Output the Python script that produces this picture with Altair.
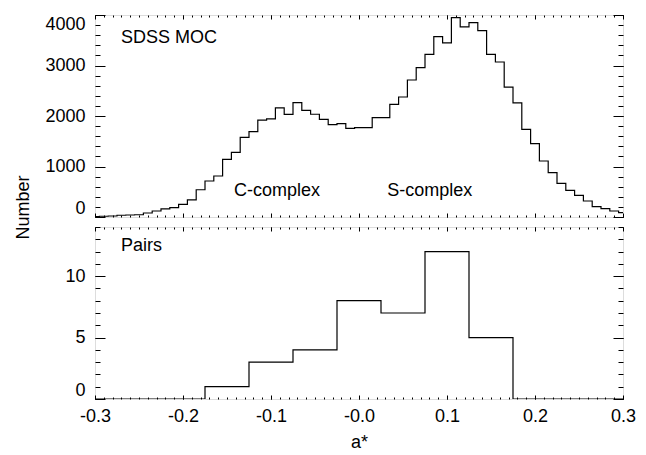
import altair as alt
import pandas as pd

# ---------------- data ----------------
# SDSS MOC a* histogram: bins of width 0.01 centred on -0.30 ... 0.30
moc_centers = [round(-0.30 + 0.01 * i, 2) for i in range(61)]
moc_counts = [10, 15, 20, 35, 40, 45, 79, 119, 160, 185,
              251, 340, 540, 713, 812, 1142, 1280, 1578, 1690, 1917,
              1945, 2160, 2033, 2264, 2112, 2035, 1934, 1830, 1850, 1756,
              1769, 1769, 1967, 1967, 2231, 2376, 2713, 2957, 3221, 3571,
              3450, 3947, 3765, 3850, 3690, 3221, 3069, 2570, 2258, 1736,
              1452, 1109, 878, 667, 528, 429, 317, 205, 165, 119, 86]

# Pairs histogram: step edges and counts (step-after)
pair_edges = [-0.30, -0.175, -0.125, -0.075, -0.025, 0.025, 0.075, 0.125, 0.175, 0.30]
pair_counts = [0, 1, 3, 4, 8, 7, 12, 5, 0, 0]

x_major = [-0.3, -0.2, -0.1, 0.0, 0.1, 0.2, 0.3]
x_minor = [round(-0.3 + 0.01 * i, 2) for i in range(61)]
top_y_major = [0, 1000, 2000, 3000, 4000]
top_y_minor = list(range(0, 4001, 200))
bot_y_major = [0, 5, 10]
bot_y_minor = list(range(0, 15))

moc_x = [round(c - 0.005, 3) for c in moc_centers] + [round(moc_centers[-1] + 0.005, 3)]
moc_y = moc_counts + [moc_counts[-1]]
moc_df = pd.DataFrame({"x": moc_x, "y": moc_y})
pair_df = pd.DataFrame({"x": pair_edges, "y": pair_counts})

# ---------------- layout ----------------
W = 528
H_TOP = 202
H_BOT = 172
FONT = "Liberation Sans"
FS = 18
XLBL = "(datum.value <= 0 ? '-' : '') + format(abs(datum.value), '.1f')"


def tick_axis(orient, offset, values, size):
    return alt.Axis(orient=orient, offset=offset, values=values, tickSize=size,
                    ticks=True, labels=False, domain=False, grid=False, title=None,
                    tickColor="black", tickWidth=1)


def panel(df, H, ydom, ymaj, ymin, xaxis_lab, yaxis_lab, notes):
    xs = alt.Scale(domain=[-0.3, 0.3], nice=False, zero=False)
    ys = alt.Scale(domain=ydom, nice=False, zero=False)

    def line(xaxis, yaxis, op):
        return alt.Chart(df).mark_line(
            interpolate="step-after", clip=True, color="black",
            strokeWidth=1.2, opacity=op
        ).encode(
            x=alt.X("x:Q", scale=xs, axis=xaxis),
            y=alt.Y("y:Q", scale=ys, axis=yaxis),
        )

    layers = [
        line(xaxis_lab, yaxis_lab, 1),
        line(tick_axis("top", -H, x_major, 4), tick_axis("right", -W, ymaj, 10), 0),
        line(tick_axis("top", -H, x_minor, 2), tick_axis("right", -W, ymin, 5), 0),
        line(tick_axis("bottom", -H, x_major, 4), tick_axis("left", -W, ymaj, 10), 0),
        line(tick_axis("bottom", -H, x_minor, 2), tick_axis("left", -W, ymin, 5), 0),
    ]
    for txt, xv, yv in notes:
        layers.append(
            alt.Chart(pd.DataFrame({"t": [txt]})).mark_text(
                align="left", baseline="middle", font=FONT, fontSize=FS, color="black"
            ).encode(
                x=alt.XDatum(xv, axis=None),
                y=alt.YDatum(yv, axis=None),
                text="t:N",
            )
        )
    return alt.layer(*layers).resolve_axis(x="independent", y="independent").properties(
        width=W, height=H
    )


top_y_axis = alt.Axis(orient="left", values=top_y_major, format="d", labelFlush=True,
                      ticks=False, tickSize=0, domain=False, grid=False,
                      labelPadding=10, labelFontSize=FS, labelColor="black", labelFont=FONT,
                      title="Number", titleFontSize=FS, titleFontWeight="normal",
                      titleFont=FONT, titleColor="black",
                      titleX=-72, titleY=192, titleAngle=270,
                      titleAlign="center", titleBaseline="middle")

bot_y_axis = alt.Axis(orient="left", values=bot_y_major, format="d", labelFlush=True,
                      ticks=False, tickSize=0, domain=False, grid=False,
                      labelPadding=10, labelFontSize=FS, labelColor="black", labelFont=FONT,
                      title=None)

bot_x_axis = alt.Axis(orient="bottom", values=x_major, labelExpr=XLBL, labelFlush=False,
                      ticks=False, tickSize=0, domain=False, grid=False,
                      labelPadding=8, labelFontSize=FS, labelColor="black", labelFont=FONT,
                      title="a*", titleFontSize=FS, titleFontWeight="normal",
                      titleFont=FONT, titleColor="black", titlePadding=8)

top = panel(moc_df, H_TOP, [0, 4000], top_y_major, top_y_minor, None, top_y_axis,
            [("SDSS MOC", -0.2705, 3545), ("C-complex", -0.142, 515), ("S-complex", 0.032, 515)])
bottom = panel(pair_df, H_BOT, [0, 14], bot_y_major, bot_y_minor, bot_x_axis, bot_y_axis,
               [("Pairs", -0.2705, 12.45)])

chart = alt.vconcat(top, bottom, spacing=10, bounds="flush").properties(
    padding={"left": 13, "top": 14, "right": 5, "bottom": 5},
    background="white",
).configure_view(stroke="black", strokeWidth=1.2).configure(font=FONT)

chart.save("out.html", embed_options={"renderer": "svg", "actions": False})
